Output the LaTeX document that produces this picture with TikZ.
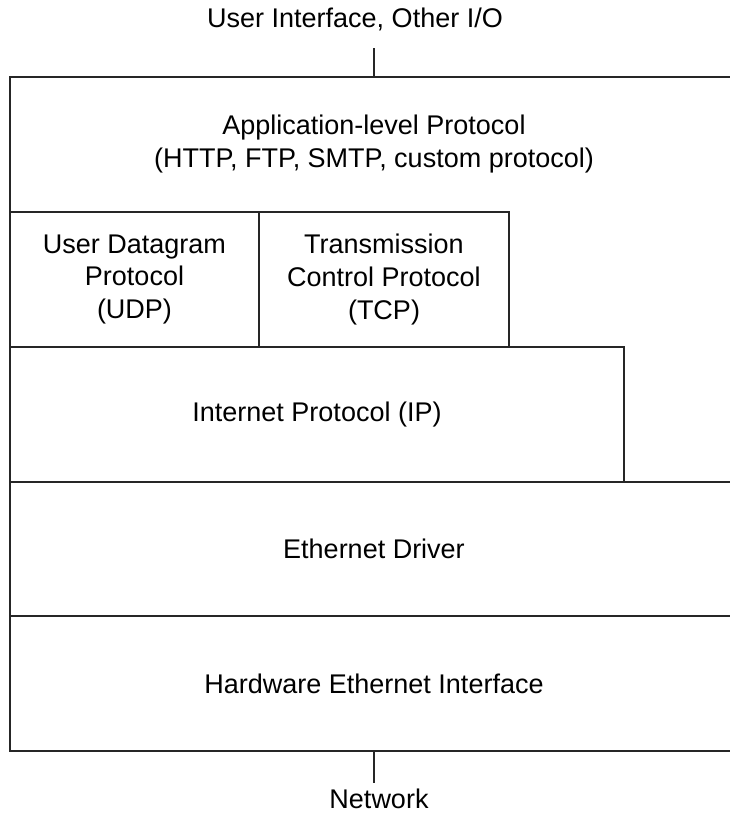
\documentclass[tikz,border=0pt]{standalone}
\usepackage{fontspec}
\setmainfont{Liberation Sans}
\begin{document}
\begin{tikzpicture}[x=1pt,y=-1pt,
  layer/.style={draw=black!85, line width=1.4pt, rectangle, inner sep=0pt, align=center,
    font=\fontsize{27}{33}\selectfont},
  openlayer/.style={rectangle, inner sep=0pt, align=center,
    font=\fontsize{27}{33}\selectfont},
  lbl/.style={inner sep=0pt, font=\fontsize{27}{33}\selectfont},
  conn/.style={draw=black!85, line width=1.4pt}]
\clip (0,0) rectangle (730,820);
\fill[white] (0,0) rectangle (730,820);
\node[openlayer, minimum width=728pt, minimum height=135pt] (app) at (374,144.5)
  {Application-level Protocol\\(HTTP, FTP, SMTP, custom protocol)};
\draw[conn] (app.south west) -- (app.north west) -- (app.north east);
\node[layer, minimum width=249pt, minimum height=135pt] (udp) at (134.5,279.5)
  {User Datagram\\Protocol\\(UDP)};
\node[layer, minimum width=250pt, minimum height=135pt] (tcp) at (384,279.5)
  {Transmission\\Control Protocol\\(TCP)};
\node[layer, minimum width=728pt, minimum height=134pt] (eth) at (374,549)
  {Ethernet Driver};
\node[layer, minimum width=614pt, minimum height=135pt] (ip) at (317,414.5)
  {Internet Protocol (IP)};
\node[layer, minimum width=728pt, minimum height=135pt] (hw) at (374,683.5)
  {Hardware Ethernet Interface};
\node[lbl, anchor=base] (ui) at (355,27) {User Interface, Other I/O};
\coordinate (uiend) at (374,48);
\draw[conn] (uiend) -- (app.north);
\node[lbl, anchor=base] (net) at (379,808) {Network};
\coordinate (netend) at (374,783);
\draw[conn] (hw.south) -- (netend);
\end{tikzpicture}
\end{document}
